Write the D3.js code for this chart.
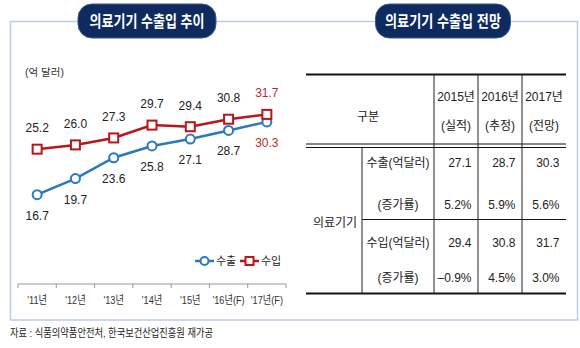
<!DOCTYPE html>
<html><head><meta charset="utf-8">
<script src="https://cdn.jsdelivr.net/npm/d3@7"></script>
<style>
html,body{margin:0;padding:0;background:#fff;}
svg text{font-family:"Liberation Sans","Noto Sans CJK KR",sans-serif;}
</style></head>
<body><svg id="c" width="580" height="348"></svg>
<script>
const years = ["'11년","'12년","'13년","'14년","'15년","'16년(F)","'17년(F)"];
const exportsVals = [16.7,19.7,23.6,25.8,27.1,28.7,30.3];
const importsVals = [25.2,26.0,27.3,29.7,29.4,30.8,31.7];
const leftTitle = "의료기기 수출입 추이";
const rightTitle = "의료기기 수출입 전망";
const unitLabel = "(억 달러)";
const legendLabels = ["수출","수입"];
const tableYears = ["2015년","2016년","2017년"];
const tableSub = ["(실적)","(추정)","(전망)"];
const exportTable = ["27.1","28.7","30.3"];
const exportGrowth = ["5.2%","5.9%","5.6%"];
const importTable = ["29.4","30.8","31.7"];
const importGrowth = ["–0.9%","4.5%","3.0%"];
const rowLabels = ["수출(억달러)","(증가률)","수입(억달러)","(증가률)"];
const source = "자료 : 식품의약품안전처, 한국보건산업진흥원  재가공";

const svg = d3.select("#c");
const BLUE = "#2b78bf", RED = "#b8161c", FRAME = "#b9cde6", NAVY = "#0e2a5f";

// frame
svg.append("rect").attr("x",10.5).attr("y",21.5).attr("width",567).attr("height",298.5)
  .attr("fill","none").attr("stroke",FRAME).attr("stroke-width",1.5);

// pills
function pill(cx, w, label, tl){
  svg.append("rect").attr("x",cx-w/2).attr("y",4).attr("width",w).attr("height",34)
    .attr("rx",14).attr("fill",NAVY).attr("stroke","#3b5a8f").attr("stroke-width",1);
  svg.append("text").attr("x",cx).attr("y",21).attr("text-anchor","middle")
    .attr("dominant-baseline","central").attr("fill","#fff")
    .attr("font-size",16).attr("font-weight","bold")
    .attr("textLength",tl).attr("lengthAdjust","spacingAndGlyphs").text(label);
}
pill(147, 138, leftTitle, 115);
pill(443, 135, rightTitle, 116);

// ---- line chart
const x = d3.scaleBand().domain(years).range([18,286]).padding(0);
const y = d3.scaleLinear().domain([0,35]).range([284,96.75]);
const cx = d => x(d) + x.bandwidth()/2;

svg.append("text").attr("x",25).attr("y",72).attr("dominant-baseline","central")
  .attr("font-size",10.5).attr("fill","#333").text(unitLabel);

// axis
const ax = svg.append("g").attr("transform","translate(0,284)")
  .call(d3.axisBottom(x).tickSize(0).tickPadding(12));
ax.select(".domain").attr("stroke","#999").attr("d","M18,0H286");
ax.selectAll("text").attr("font-size",11.5).attr("fill","#333")
  .attr("font-family",'"Liberation Sans","Noto Sans CJK KR",sans-serif')
  .attr("transform","scale(0.8,1)");
const bounds = years.map(d=>x(d)).concat([x(years[years.length-1])+x.bandwidth()]);
svg.append("g").selectAll("line").data(bounds).join("line")
  .attr("x1",d=>d).attr("x2",d=>d).attr("y1",284).attr("y2",288)
  .attr("stroke","#999");

const line = d3.line().x((d,i)=>cx(years[i])).y(d=>y(d));
svg.append("path").datum(importsVals).attr("d",line).attr("fill","none")
  .attr("stroke",RED).attr("stroke-width",2.5);
svg.append("path").datum(exportsVals).attr("d",line).attr("fill","none")
  .attr("stroke",BLUE).attr("stroke-width",2.5);

svg.append("g").selectAll("circle").data(exportsVals).join("circle")
  .attr("cx",(d,i)=>cx(years[i])).attr("cy",d=>y(d)).attr("r",4.5)
  .attr("fill","#fff").attr("stroke",BLUE).attr("stroke-width",2);
svg.append("g").selectAll("rect").data(importsVals).join("rect")
  .attr("x",(d,i)=>cx(years[i])-4.5).attr("y",d=>y(d)-4.5).attr("width",9).attr("height",9)
  .attr("fill","#fff").attr("stroke",RED).attr("stroke-width",2);

const last = years.length-1;
svg.append("g").selectAll("text").data(importsVals).join("text")
  .attr("x",(d,i)=>cx(years[i])).attr("y",d=>y(d)-21)
  .attr("text-anchor","middle").attr("dominant-baseline","central")
  .attr("font-size",12).attr("fill",(d,i)=>i===last?"#c0272d":"#222")
  .text(d=>d.toFixed(1));
svg.append("g").selectAll("text").data(exportsVals).join("text")
  .attr("x",(d,i)=>cx(years[i])).attr("y",d=>y(d)+21)
  .attr("text-anchor","middle").attr("dominant-baseline","central")
  .attr("font-size",12).attr("fill",(d,i)=>i===last?"#c0272d":"#222")
  .text(d=>d.toFixed(1));

// legend
const lg = svg.append("g");
lg.append("line").attr("x1",195).attr("x2",214).attr("y1",261).attr("y2",261).attr("stroke",BLUE).attr("stroke-width",2.5);
lg.append("circle").attr("cx",204.5).attr("cy",261).attr("r",4).attr("fill","#fff").attr("stroke",BLUE).attr("stroke-width",2);
lg.append("text").attr("x",216).attr("y",261).attr("dominant-baseline","central").attr("font-size",11).attr("fill","#222").text(legendLabels[0]);
lg.append("line").attr("x1",240).attr("x2",259).attr("y1",261).attr("y2",261).attr("stroke",RED).attr("stroke-width",2.5);
lg.append("rect").attr("x",245.5).attr("y",257).attr("width",8).attr("height",8).attr("fill","#fff").attr("stroke",RED).attr("stroke-width",2);
lg.append("text").attr("x",261).attr("y",261).attr("dominant-baseline","central").attr("font-size",11).attr("fill","#222").text(legendLabels[1]);

// ---- table
const T = svg.append("g");
const fs = 12;
const colX = [434,478,522,566];
function hl(x1,x2,yy,w){T.append("line").attr("x1",x1).attr("x2",x2).attr("y1",yy).attr("y2",yy).attr("stroke","#111").attr("stroke-width",w);}
function vl(xx,y1,y2){T.append("line").attr("x1",xx).attr("x2",xx).attr("y1",y1).attr("y2",y2).attr("stroke","#222").attr("stroke-width",1);}
function tx(xx,yy,s,anchor){T.append("text").attr("x",xx).attr("y",yy).attr("text-anchor",anchor||"middle")
  .attr("dominant-baseline","central").attr("font-size",fs).attr("fill","#222").text(s);}
hl(306,566,74.5,2);
hl(306,566,144,1); hl(306,566,147.5,1);
hl(362,566,219.5,1);
hl(306,566,293.5,2);
colX.slice(0,3).forEach(c=>vl(c,75,293));
vl(362,148,293);

tx(368,117,"구분");
tableYears.forEach((s,i)=>{ tx((colX[i]+colX[i+1])/2,97,s); tx((colX[i]+colX[i+1])/2,126,tableSub[i]); });
tx(335,223,"의료기기");
const rowsY = [163,205,243,278];
rowLabels.forEach((s,i)=>tx(398,rowsY[i],s));
[exportTable,exportGrowth,importTable,importGrowth].forEach((arr,r)=>{
  arr.forEach((s,i)=>tx(colX[i+1]-6.5,rowsY[r],s,"end"));
});

// source
svg.append("text").attr("x",10).attr("y",333).attr("dominant-baseline","central")
  .attr("font-size",11).attr("fill","#222")
  .attr("textLength",203).attr("lengthAdjust","spacingAndGlyphs").text(source);
</script></body></html>
